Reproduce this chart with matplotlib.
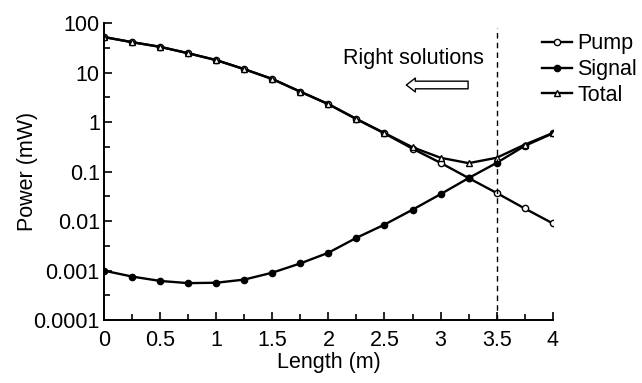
import numpy as np
import matplotlib.pyplot as plt
from matplotlib.ticker import FixedLocator, FixedFormatter

plt.rcParams['font.family'] = ['Liberation Sans', 'DejaVu Sans']

length = [0, 0.25, 0.5, 0.75, 1.0, 1.25, 1.5, 1.75, 2.0,
          2.25, 2.5, 2.75, 3.0, 3.25, 3.5, 3.75, 4.0]
pump = [52, 41, 33, 24.5, 17.8, 11.7, 7.4, 4.1, 2.3,
        1.15, 0.59, 0.29, 0.15, 0.074, 0.037, 0.018, 0.009]
signal = [0.001, 0.00076, 0.00062, 0.00056, 0.00057, 0.00066, 0.00091, 0.0014, 0.0023,
          0.0046, 0.0085, 0.017, 0.035, 0.074, 0.15, 0.33, 0.59]
total = [52, 41, 33, 24.5, 17.8, 11.7, 7.4, 4.1, 2.3,
         1.15, 0.60, 0.31, 0.19, 0.148, 0.19, 0.35, 0.60]

y_ticks = [1e-4, 1e-3, 1e-2, 1e-1, 1, 10, 100]
y_labels = ['0.0001', '0.001', '0.01', '0.1', '1', '10', '100']
x_ticks = [0, 0.5, 1, 1.5, 2, 2.5, 3, 3.5, 4]
x_labels = ['0', '0.5', '1', '1.5', '2', '2.5', '3', '3.5', '4']

fs = 15.5

fig = plt.figure(figsize=(6.42, 3.83), dpi=100)
ax = fig.add_axes([0.162, 0.164, 0.699, 0.776])

lw = 1.7
ax.plot(length, pump, '-', color='black', lw=lw, marker='o', ms=4.5,
        mfc='white', mec='black', mew=1, label='Pump')
ax.plot(length, signal, '-', color='black', lw=lw, marker='o', ms=4.5,
        mfc='black', mec='black', label='Signal')
ax.plot(length, total, '-', color='black', lw=lw, marker='^', ms=5,
        mfc='white', mec='black', mew=1, label='Total')

ax.set_yscale('log')
ax.set_xlim(0, 4)
ax.set_ylim(1e-4, 100)

ax.axvline(3.5, ymin=0, ymax=0.983, color='black', lw=1, ls=(0, (4, 3)))

ax.text(2.13, 19.6, 'Right solutions', fontsize=fs, va='center', ha='left')
ax.annotate('', xy=(2.67, 5.6), xytext=(3.27, 5.6),
            arrowprops=dict(arrowstyle='simple,head_length=0.65,head_width=1.0,tail_width=0.55',
                            fc='white', ec='black', lw=1))

ax.yaxis.set_major_locator(FixedLocator(y_ticks))
ax.yaxis.set_major_formatter(FixedFormatter(y_labels))
ax.yaxis.set_minor_locator(FixedLocator([10 ** (k + 0.5) for k in range(-4, 2)]))
ax.yaxis.set_minor_formatter(FixedFormatter([]))
ax.xaxis.set_major_locator(FixedLocator(x_ticks))
ax.xaxis.set_major_formatter(FixedFormatter(x_labels))
ax.xaxis.set_minor_locator(FixedLocator(np.arange(0.25, 4, 0.5)))

ax.tick_params(which='both', direction='in', labelsize=fs, width=1.2)
ax.tick_params(which='major', length=6)
ax.tick_params(which='minor', length=4)
ax.tick_params(axis='x', pad=7)
ax.tick_params(axis='y', pad=3)

for side in ['top', 'right']:
    ax.spines[side].set_visible(False)
for side in ['left', 'bottom']:
    ax.spines[side].set_linewidth(1.4)

ax.set_xlabel('Length (m)', fontsize=fs, labelpad=1)
ax.set_ylabel('Power (mW)', fontsize=fs, labelpad=-3)

ax.legend(loc='upper left', bbox_to_anchor=(0.975, 0.965), frameon=False,
          fontsize=fs, handlelength=1.4, handletextpad=0.25,
          labelspacing=0.22, borderpad=0, borderaxespad=0)

fig.savefig('out.png', dpi=100)
